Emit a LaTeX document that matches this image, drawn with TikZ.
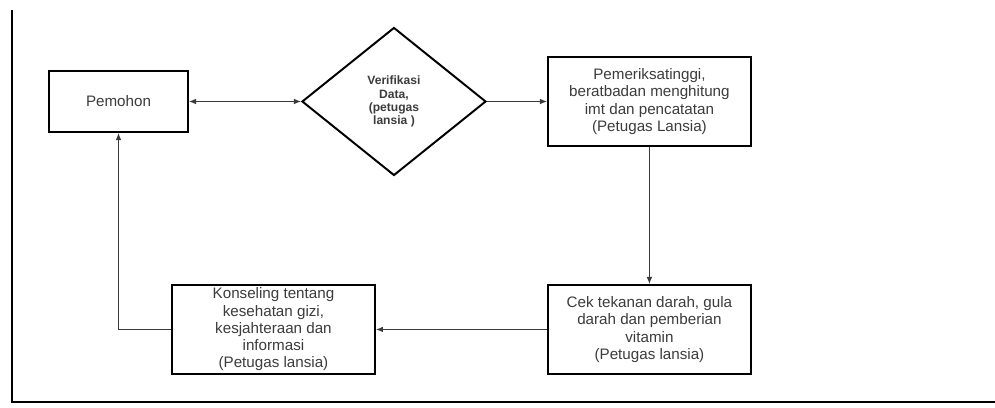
\documentclass[tikz,border=0pt]{standalone}
\usepackage{fontspec}
\setmainfont{Liberation Sans}
\usepackage{tikz}
\usetikzlibrary{positioning,arrows.meta,shapes.geometric}
\usepackage{xcolor}
\definecolor{garis}{HTML}{3A3A3A}
\definecolor{teks}{HTML}{3C3C3C}

\begin{document}
\begin{tikzpicture}[
    kotakAlur/.style={rectangle, draw=black, line width=1.4pt, fill=white, minimum width=5.075cm, minimum height=2.225cm, align=center, text=teks, font=\fontsize{10.8}{12.3}\selectfont, inner sep=2pt},
    cekData/.style={diamond, draw=black, line width=1.4pt, fill=white, minimum width=4.6cm, minimum height=3.7cm, align=center, text=teks, font=\fontsize{8.6}{9.4}\selectfont\bfseries, inner sep=0pt},
    panahAlur/.style={-{Latex[length=5pt,width=4pt]}, line width=0.7pt, draw=garis}
]
    \useasboundingbox (0,0) rectangle (24.875,-10.2);

    % Bingkai kiri dan bawah
    \draw[line width=1.4pt] (0.3,-0.25) -- (0.3,-10.05) -- (24.875,-10.05);

    \node[kotakAlur, minimum width=3.475cm, minimum height=1.525cm] (pemohon) at (2.9625,-2.5375) {Pemohon};
    \node[cekData, right=2.8cm of pemohon] (verif) {
        Verifikasi\\
        Data,\\
        (petugas\\
        lansia )
    };
    \node[kotakAlur, right=1.5cm of verif] (periksa) {
        Pemeriksatinggi,\\
        beratbadan menghitung\\
        imt dan pencatatan\\
        (Petugas Lansia)
    };
    \node[kotakAlur, below=3.425cm of periksa] (cek) {
        Cek tekanan darah, gula\\
        darah dan pemberian\\
        vitamin\\
        (Petugas lansia)
    };
    \node[kotakAlur, left=4.275cm of cek] (konseling) {
        Konseling tentang\\
        kesehatan gizi,\\
        kesjahteraan dan\\
        informasi\\
        (Petugas lansia)
    };

    \draw[panahAlur, {Latex[length=5pt,width=4pt]}-{Latex[length=5pt,width=4pt]}] (pemohon) -- (verif);
    \draw[panahAlur] (verif) -- (periksa);
    \draw[panahAlur] (periksa) -- (cek);
    \draw[panahAlur] (cek) -- (konseling);

    % Kembali ke pemohon
    \draw[panahAlur] (konseling.west) -| (pemohon.south);
\end{tikzpicture}
\end{document}
